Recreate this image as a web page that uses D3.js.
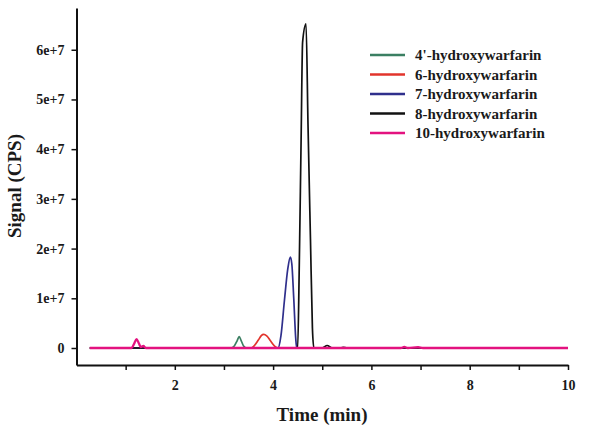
<!DOCTYPE html>
<html lang="en">
<head>
<meta charset="UTF-8" />
<title>Hydroxywarfarin chromatogram</title>
<script src="https://cdn.jsdelivr.net/npm/d3@7"></script>
<style>
  body { margin: 0; background: #fff; }
  svg text { font-family: "Liberation Serif", "Times New Roman", serif; font-weight: bold; fill: #1a1a1a; }
</style>
</head>
<body>
<script>
// series names + colours
var names = ["4'-hydroxywarfarin", "6-hydroxywarfarin", "7-hydroxywarfarin", "8-hydroxywarfarin", "10-hydroxywarfarin"];
var colors = ["#3b7f62", "#e2342c", "#2f2f8c", "#111111", "#e3127f"];

// time (min) / signal (CPS) pairs
var green = [[0.27,0],[3.14,0],[3.21,0.4e6],[3.27,1.5e6],[3.31,2.3e6],[3.35,1.5e6],[3.40,0.4e6],[3.46,0],[10,0]];
var red = [[0.27,0],[3.55,0],[3.62,0.5e6],[3.70,1.6e6],[3.76,2.5e6],[3.81,2.75e6],[3.87,2.45e6],[3.95,1.4e6],[4.03,0.4e6],[4.10,0],[10,0]];
var blue = [[0.27,0],[4.10,0],[4.16,0.25e7],[4.23,0.95e7],[4.30,1.6e7],[4.35,1.83e7],[4.38,1.7e7],[4.42,1.0e7],[4.46,0.2e7],[4.48,0],[10,0]];
var black = [[0.27,0],[4.50,0],[4.53,1.5e7],[4.57,4.2e7],[4.60,6.15e7],[4.67,6.52e7],[4.71,4.5e7],[4.76,2.2e7],[4.80,0.4e7],[4.83,0],[5.0,0],[5.1,0.5e6],[5.2,0],[5.38,0],[5.43,0.15e6],[5.5,0],[10,0]];
var pink = [[0.27,0],[1.12,0],[1.17,0.8e6],[1.22,1.8e6],[1.27,0.9e6],[1.31,0.2e6],[1.36,0.4e6],[1.41,0],[6.6,0],[6.67,0.2e6],[6.74,0],[6.95,0.15e6],[7.05,0],[10,0]];
var series = [green, red, blue, black, pink];

// tick values
var yTicks = [0, 1e7, 2e7, 3e7, 4e7, 5e7, 6e7];
var xTicks = [1, 2, 3, 4, 5, 6, 7, 8, 9, 10];

var w = 600, h = 430;
var svg = d3.select("body").append("svg").attr("width", w).attr("height", h);
svg.append("rect").attr("width", w).attr("height", h).attr("fill", "#fff");

var xScale = d3.scaleLinear().domain([0, 10]).range([76.5, 568]);
var yScale = d3.scaleLinear().domain([-0.342e7, 6.84e7]).range([365, 8]);

var line = d3.line()
  .x(function(d) { return xScale(d[0]); })
  .y(function(d) { return yScale(d[1]); })
  .curve(d3.curveMonotoneX);

series.forEach(function(s, i) {
  svg.append("path")
    .attr("d", line(s))
    .attr("fill", "none")
    .attr("stroke", colors[i])
    .attr("stroke-width", i == 4 ? 2.3 : 1.7)
    .attr("stroke-linejoin", "round");
});

var xAxis = d3.axisBottom(xScale)
  .tickValues(xTicks)
  .tickFormat(function(d) { return d % 2 == 0 ? d : ""; })
  .tickSize(5).tickSizeOuter(0).tickPadding(10);
var gx = svg.append("g").attr("transform", "translate(0,365)").call(xAxis);

var yAxis = d3.axisLeft(yScale)
  .tickValues(yTicks)
  .tickFormat(function(d) { return d == 0 ? "0" : (d / 1e7) + "e+7"; })
  .tickSize(5).tickSizeOuter(0).tickPadding(7);
var gy = svg.append("g").attr("transform", "translate(76.5,0)").call(yAxis);

[gx, gy].forEach(function(g) {
  g.select(".domain").attr("stroke", "#111").attr("stroke-width", 2);
  g.selectAll(".tick line").attr("stroke", "#111").attr("stroke-width", 1.5);
  g.selectAll("text").attr("font-size", 14).attr("fill", "#1a1a1a")
    .attr("font-family", "Liberation Serif").attr("font-weight", "bold");
});

// axis titles
svg.append("text")
  .text("Time (min)")
  .attr("text-anchor", "middle")
  .attr("font-size", 19)
  .attr("transform", "translate(322,421)");
svg.append("text")
  .text("Signal (CPS)")
  .attr("text-anchor", "middle")
  .attr("font-size", 19)
  .attr("transform", "translate(21,186)rotate(-90)");

// legend
var legend = svg.append("g").attr("transform", "translate(370,55)");
names.forEach(function(n, i) {
  legend.append("line")
    .attr("x1", 0).attr("x2", 35)
    .attr("y1", i * 19.5).attr("y2", i * 19.5)
    .attr("stroke", colors[i]).attr("stroke-width", 2.5);
  legend.append("text")
    .text(n)
    .attr("x", 45).attr("y", i * 19.5 + 5)
    .attr("font-size", 15);
});
</script>
</body>
</html>
